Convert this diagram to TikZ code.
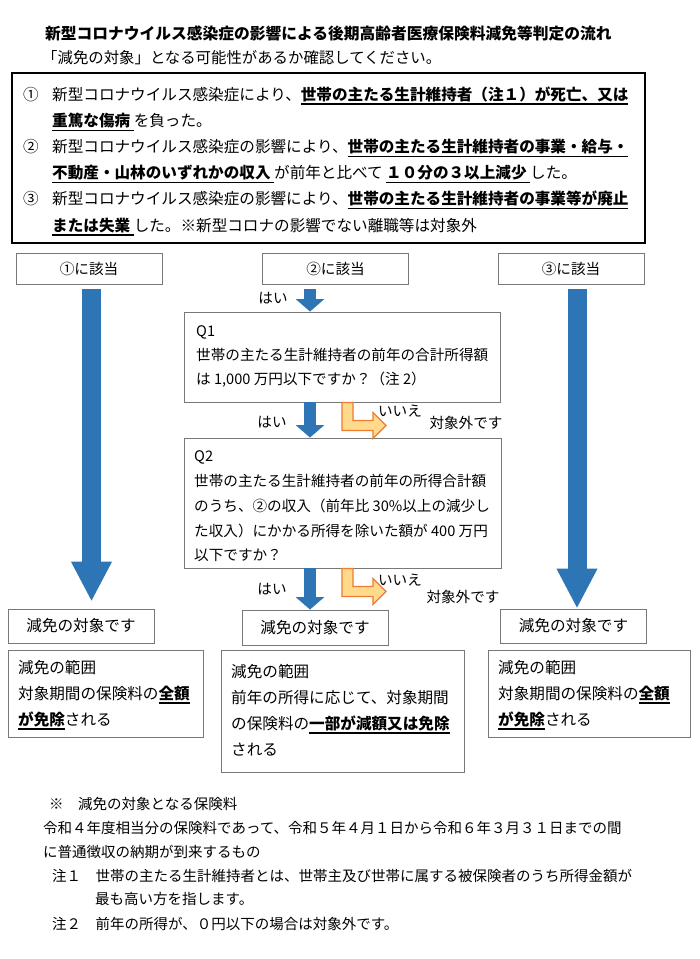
\documentclass[tikz,border=0pt]{standalone}
\usepackage{fontspec}
\setmainfont{Noto Sans CJK JP}
\usetikzlibrary{arrows.meta,calc}
\definecolor{flowblue}{RGB}{46,117,182}
\definecolor{noline}{RGB}{237,125,49}
\definecolor{nofill}{RGB}{255,218,140}
\definecolor{boxgray}{RGB}{120,120,120}
\newcommand\Fs[1]{\fontsize{#1}{#1}\selectfont}
% bold text with a rule under it
\newcommand\Ub[1]{\setbox0\hbox{\bfseries #1}\rlap{\raisebox{-4.5pt}[0pt][0pt]{\rule{\wd0}{1.6pt}}}\box0}
\tikzset{
    bodyline/.style={anchor=base west, inner sep=0pt, font=\Fs{15.6}},
    qline/.style={anchor=base west, inner sep=0pt, font=\Fs{14.6}},
    fnote/.style={anchor=base west, inner sep=0pt, font=\Fs{14.5}},
    smalltag/.style={inner sep=0pt, font=\Fs{14.6}},
    catbox/.style={draw=boxgray, line width=0.9pt, minimum width=146pt, minimum height=31pt, inner sep=0pt, font=\Fs{14.6}},
    resbox/.style={catbox, minimum height=34pt, font=\Fs{15.6}},
    qbox/.style={draw=boxgray, line width=0.9pt, inner sep=0pt},
    bigarrow/.style={flowblue, line width=19pt, -{Triangle[width=38pt,length=40pt]}},
    yesarrow/.style={flowblue, line width=11.5pt, -{Triangle[width=28pt,length=12.5pt]}},
    noarrow/.pic={
        \draw[draw=noline, fill=nofill, line width=1.2pt] (0,0) -- (11,0) -- (11,18) -- (31,18) -- (31,10)
            -- (44,23) -- (31,36) -- (31,28) -- (0,28) -- cycle;
    },
}

\begin{document}
\begin{tikzpicture}[x=1pt,y=-1pt]
    \path[fill=white] (0,0) rectangle (700,959);
    \useasboundingbox (0,0) rectangle (700,959);
    % heading
    \node[anchor=base west, inner sep=0pt, font=\Fs{15.75}\bfseries] (title) at (45,39) {新型コロナウイルス感染症の影響による後期高齢者医療保険料減免等判定の流れ};
    \node[anchor=base west, inner sep=0pt, font=\Fs{15.4}] (subtitle) at (42,63) {「減免の対象」となる可能性があるか確認してください。};
    % conditions
    \draw[line width=2pt] (12,73) rectangle (645,243);
    \node[bodyline] (n1) at (23,100.5) {①};
    \node[bodyline] (l1) at (52,100.5) {新型コロナウイルス感染症により、\Ub{世帯の主たる生計維持者（注１）が死亡、又は}};
    \node[bodyline] (l2) at (52,126.6) {\Ub{重篤な傷病 }を負った。};
    \node[bodyline] (n2) at (23,152.7) {②};
    \node[bodyline] (l3) at (52,152.7) {新型コロナウイルス感染症の影響により、\Ub{世帯の主たる生計維持者の事業・給与・}};
    \node[bodyline] (l4) at (52,178.8) {\Ub{不動産・山林のいずれかの収入 }が前年と比べて \Ub{１０分の３以上減少 }した。};
    \node[bodyline] (n3) at (23,204.9) {③};
    \node[bodyline] (l5) at (52,204.9) {新型コロナウイルス感染症の影響により、\Ub{世帯の主たる生計維持者の事業等が廃止}};
    \node[bodyline] (l6) at (52,231) {\Ub{または失業 }した。※新型コロナの影響でない離職等は対象外};
    % which case
    \node[catbox] (cat1) at (89,268.5) {①に該当};
    \node[catbox] (cat2) at (335.5,268.5) {②に該当};
    \node[catbox] (cat3) at (571,268.5) {③に該当};
    % questions
    \node[qbox, minimum width=316pt, minimum height=90pt] (q1) at (342,357) {};
    \node[qline] (q1a) at (196,336.5) {Q1};
    \node[qline] (q1b) at (196,360.5) {世帯の主たる生計維持者の前年の合計所得額};
    \node[qline] (q1c) at (196,384.5) {は 1,000 万円以下ですか？（注 2）};
    \node[qbox, minimum width=317pt, minimum height=130pt] (q2) at (342.5,503) {};
    \node[qline] (q2a) at (194,461.5) {Q2};
    \node[qline] (q2b) at (194,486.5) {世帯の主たる生計維持者の前年の所得合計額};
    \node[qline] (q2c) at (194,511.5) {のうち、②の収入（前年比 30\%以上の減少し};
    \node[qline] (q2d) at (194,536.5) {た収入）にかかる所得を除いた額が 400 万円};
    \node[qline] (q2e) at (194,560.5) {以下ですか？};
    % results
    \node[resbox] (res1) at (81,626) {減免の対象です};
    \node[resbox, minimum height=35pt] (res2) at (315,627.5) {減免の対象です};
    \node[resbox] (res3) at (573.5,626) {減免の対象です};
    \node[qbox, minimum width=195pt, minimum height=87pt] (rng1) at (105.5,693.5) {};
    \node[bodyline] (rng1a) at (18,673) {減免の範囲};
    \node[bodyline] (rng1b) at (18,699) {対象期間の保険料の\Ub{全額}};
    \node[bodyline] (rng1c) at (18,725) {\Ub{が免除}される};
    \node[qbox, minimum width=243pt, minimum height=122pt] (rng2) at (342.5,711) {};
    \node[bodyline] (rng2a) at (231,677) {減免の範囲};
    \node[bodyline] (rng2b) at (231,703) {前年の所得に応じて、対象期間};
    \node[bodyline] (rng2c) at (231,729) {の保険料の\Ub{一部が減額又は免除}};
    \node[bodyline] (rng2d) at (231,755) {される};
    \node[qbox, minimum width=202pt, minimum height=87pt] (rng3) at (589,693.5) {};
    \node[bodyline] (rng3a) at (498,673) {減免の範囲};
    \node[bodyline] (rng3b) at (498,699) {対象期間の保険料の\Ub{全額}};
    \node[bodyline] (rng3c) at (498,725) {\Ub{が免除}される};
    % arrows
    \draw[bigarrow] ($(cat1.south)+(2.5,5)$) -- ($(cat1.south |- res1.north)+(2.5,-7)$);
    \draw[bigarrow] ($(cat3.south)+(6,5)$) -- ($(cat3.south |- res3.north)+(6,0)$);
    \coordinate (midx) at (310,0);
    \draw[yesarrow, shorten <=4.5pt] (midx |- cat2.south) -- (midx |- q1.north);
    \draw[yesarrow] (midx |- q1.south) -- (midx |- q2.north);
    \draw[yesarrow] (midx |- q2.south) -- (midx |- res2.north);
    \node[smalltag] (yes1) at (273,298) {はい};
    \node[smalltag] (yes2) at (272,422) {はい};
    \node[smalltag] (yes3) at (272,589) {はい};
    \coordinate (nox) at (342,0);
    \pic at (nox |- q1.south) {noarrow};
    \pic at (nox |- q2.south) {noarrow};
    \node[smalltag] (no1) at (400,411) {いいえ};
    \node[smalltag] (out1) at (466,423) {対象外です};
    \node[smalltag] (no2) at (400,580) {いいえ};
    \node[smalltag] (out2) at (463,597) {対象外です};
    % notes
    \node[fnote] (f1) at (49,809.5) {※　減免の対象となる保険料};
    \node[fnote] (f2) at (43,833.5) {令和４年度相当分の保険料であって、令和５年４月１日から令和６年３月３１日までの間};
    \node[fnote] (f3) at (43,857.5) {に普通徴収の納期が到来するもの};
    \node[fnote] (f4) at (52,881.5) {注１　世帯の主たる生計維持者とは、世帯主及び世帯に属する被保険者のうち所得金額が};
    \node[fnote] (f5) at (95,904.5) {最も高い方を指します。};
    \node[fnote] (f6) at (52,929.5) {注２　前年の所得が、０円以下の場合は対象外です。};
\end{tikzpicture}
\end{document}
